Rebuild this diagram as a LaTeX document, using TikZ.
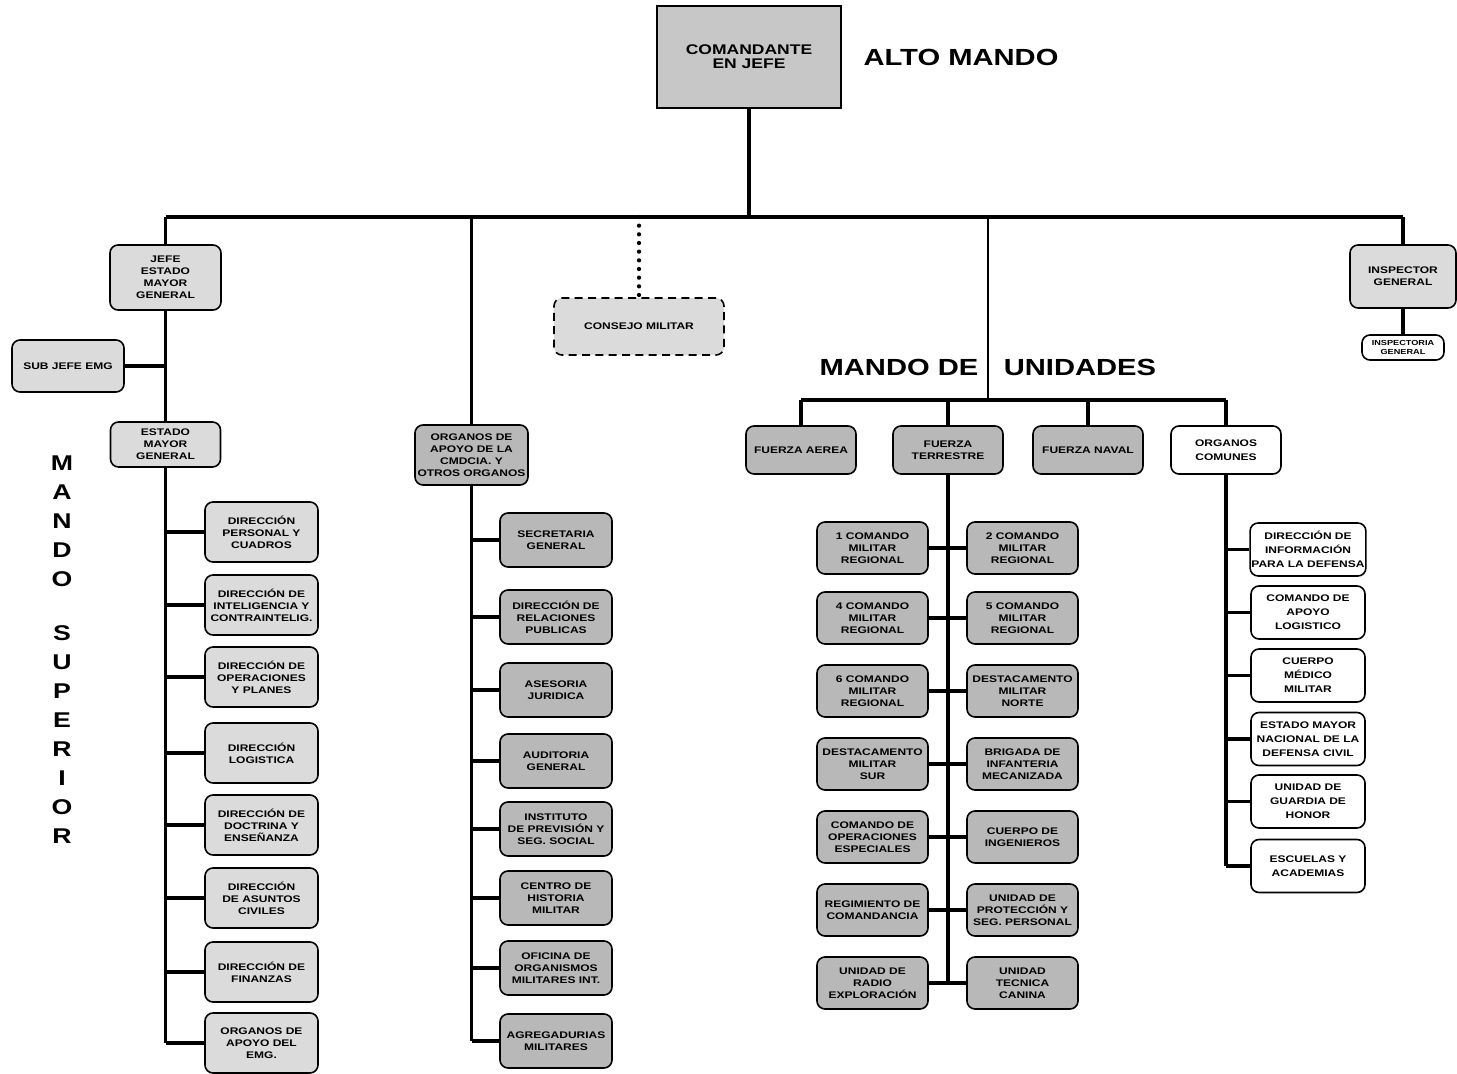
\documentclass[tikz,border=0pt]{standalone}
\usepackage{fontspec}
\setmainfont{Liberation Sans}[FakeStretch=1.25]
\definecolor{boxlite}{gray}{0.86}
\definecolor{boxdark}{gray}{0.72}
\definecolor{boxtop}{gray}{0.78}
\newcommand{\orgfont}{\bfseries\fontsize{7.2}{9}\selectfont}
\newcommand{\orgwidefont}{\bfseries\fontsize{7.2}{10.5}\selectfont}
\newcommand{\orgtinyfont}{\bfseries\fontsize{5.5}{6.5}\selectfont}
\newcommand{\cmdfont}{\bfseries\fontsize{10.5}{10.5}\selectfont}
\newcommand{\headfont}{\bfseries\fontsize{17.5}{20}\selectfont}
\newcommand{\vertfont}{\bfseries\fontsize{16}{18}\selectfont}
\tikzset{every picture/.style={line width=0.75pt}}
\tikzset{
  orgbox/.style={draw, rounded corners=6pt, line width=1.2pt, align=center, inner sep=1pt, font=\orgfont},
  litebox/.style={orgbox, fill=boxlite},
  darkbox/.style={orgbox, fill=boxdark},
  whitebox/.style={orgbox, fill=white, font=\orgwidefont},
  colA/.style={minimum width=84.75pt, minimum height=45pt},
  colB/.style={minimum width=84pt, minimum height=40.5pt},
  colC/.style={minimum width=83.25pt, minimum height=39pt},
  colD/.style={minimum width=85.5pt, minimum height=39.75pt},
  fza/.style={minimum width=82.5pt, minimum height=36pt},
  link/.style={line width=2.6pt},
  dotline/.style={line width=3.2pt, line cap=round, dash pattern=on 0pt off 6.5pt},
  vtext/.style={font=\vertfont, inner sep=0pt}
}
\begin{document}
\begin{tikzpicture}[x=0.75pt,y=0.75pt,yscale=-1,xscale=1]
	\useasboundingbox (0,0) rectangle (1457,1074);
	
	%Shape: Rectangle [alto mando]
	\node (cmd) at (749,57) [orgbox, sharp corners, fill=boxtop, minimum width=138pt, minimum height=76.5pt, font=\cmdfont] {COMANDANTE\\EN JEFE};
	% Text Node
	\node (alto) at (961,57) [font=\headfont] {ALTO MANDO};
	\coordinate (bar) at (749,217);
	
	%Shape: Rectangle [estado mayor]
	\node (jemg) at (165.5,277.5) [litebox, minimum width=83.25pt, minimum height=48.75pt] {JEFE\\ESTADO\\MAYOR\\GENERAL};
	\node (sjemg) at (68,366) [litebox, minimum width=84pt, minimum height=39pt] {SUB JEFE EMG};
	\node (emg) at (165.5,444.5) [litebox, minimum width=82.5pt, minimum height=33.75pt] {ESTADO\\MAYOR\\GENERAL};
	\node (dpc) at (261.5,532) [litebox, colA] {DIRECCIÓN\\PERSONAL Y\\CUADROS};
	\node (dic) at (261.5,605) [litebox, colA] {DIRECCIÓN DE\\INTELIGENCIA Y\\CONTRAINTELIG.};
	\node (dop) at (261.5,677) [litebox, colA] {DIRECCIÓN DE\\OPERACIONES\\Y PLANES};
	\node (dlg) at (261.5,753) [litebox, colA] {DIRECCIÓN\\LOGISTICA};
	\node (dde) at (261.5,825) [litebox, colA] {DIRECCIÓN DE\\DOCTRINA Y\\ENSEÑANZA};
	\node (dac) at (261.5,898) [litebox, colA] {DIRECCIÓN\\DE ASUNTOS\\CIVILES};
	\node (dfi) at (261.5,972) [litebox, colA] {DIRECCIÓN DE\\FINANZAS};
	\node (oae) at (261.5,1043) [litebox, colA] {ORGANOS DE\\APOYO DEL\\EMG.};
	
	%Shape: Rectangle [organos de apoyo]
	\node (oac) at (471.5,455) [darkbox, colA] {ORGANOS DE\\APOYO DE LA\\CMDCIA. Y\\OTROS ORGANOS};
	\node (sgn) at (556,540) [darkbox, colB] {SECRETARIA\\GENERAL};
	\node (drp) at (556,617) [darkbox, colB] {DIRECCIÓN DE\\RELACIONES\\PUBLICAS};
	\node (asj) at (556,690) [darkbox, colB] {ASESORIA\\JURIDICA};
	\node (aug) at (556,761) [darkbox, colB] {AUDITORIA\\GENERAL};
	\node (ips) at (556,829) [darkbox, colB] {INSTITUTO\\DE PREVISIÓN Y\\SEG. SOCIAL};
	\node (chm) at (556,898) [darkbox, colB] {CENTRO DE\\HISTORIA\\MILITAR};
	\node (omi) at (556,968) [darkbox, colB] {OFICINA DE\\ORGANISMOS\\MILITARES INT.};
	\node (agm) at (556,1041) [darkbox, colB] {AGREGADURIAS\\MILITARES};
	
	%Shape: Rectangle [consejo]
	\node (csm) at (639,326.5) [litebox, dash pattern=on 6pt off 4pt, minimum width=127.5pt, minimum height=42.75pt] {CONSEJO MILITAR};
	
	%Shape: Rectangle [inspector]
	\node (igl) at (1403,276.5) [litebox, minimum width=79.5pt, minimum height=47.25pt] {INSPECTOR\\GENERAL};
	\node (iga) at (1403,347.5) [orgbox, fill=white, font=\orgtinyfont, minimum width=61.5pt, minimum height=18.75pt] {INSPECTORIA\\GENERAL};
	
	% Text Node
	\node (mdt) at (899,367) [font=\headfont] {MANDO DE};
	\node (unt) at (1080,367) [font=\headfont] {UNIDADES};
	\coordinate (mu) at (988,400);
	
	%Shape: Rectangle [fuerzas]
	\node (fza) at (801,450) [darkbox, fza] {FUERZA AEREA};
	\node (fzt) at (948,450) [darkbox, fza] {FUERZA\\TERRESTRE};
	\node (fzn) at (1088,450) [darkbox, fza] {FUERZA NAVAL};
	\node (ocm) at (1226,450) [whitebox, fza] {ORGANOS\\COMUNES};
	
	\node (cm1) at (872.5,548) [darkbox, colC] {1 COMANDO\\MILITAR\\REGIONAL};
	\node (cm2) at (1022.5,548) [darkbox, colC] {2 COMANDO\\MILITAR\\REGIONAL};
	\node (cm4) at (872.5,618) [darkbox, colC] {4 COMANDO\\MILITAR\\REGIONAL};
	\node (cm5) at (1022.5,618) [darkbox, colC] {5 COMANDO\\MILITAR\\REGIONAL};
	\node (cm6) at (872.5,691) [darkbox, colC] {6 COMANDO\\MILITAR\\REGIONAL};
	\node (dmn) at (1022.5,691) [darkbox, colC] {DESTACAMENTO\\MILITAR\\NORTE};
	\node (dms) at (872.5,764) [darkbox, colC] {DESTACAMENTO\\MILITAR\\SUR};
	\node (bim) at (1022.5,764) [darkbox, colC] {BRIGADA DE\\INFANTERIA\\MECANIZADA};
	\node (coe) at (872.5,837) [darkbox, colC] {COMANDO DE\\OPERACIONES\\ESPECIALES};
	\node (cin) at (1022.5,837) [darkbox, colC] {CUERPO DE\\INGENIEROS};
	\node (rco) at (872.5,910) [darkbox, colC] {REGIMIENTO DE\\COMANDANCIA};
	\node (ups) at (1022.5,910) [darkbox, colC] {UNIDAD DE\\PROTECCIÓN Y\\SEG. PERSONAL};
	\node (ure) at (872.5,983) [darkbox, colC] {UNIDAD DE\\RADIO\\EXPLORACIÓN};
	\node (utc) at (1022.5,983) [darkbox, colC] {UNIDAD\\TECNICA\\CANINA};
	
	\node (dip) at (1308,549.5) [whitebox, colD] {DIRECCIÓN DE\\INFORMACIÓN\\PARA LA DEFENSA};
	\node (cal) at (1308,612.5) [whitebox, colD] {COMANDO DE\\APOYO\\LOGISTICO};
	\node (cmm) at (1308,675.5) [whitebox, colD] {CUERPO\\MÉDICO\\MILITAR};
	\node (emn) at (1308,739) [whitebox, colD] {ESTADO MAYOR\\NACIONAL DE LA\\DEFENSA CIVIL};
	\node (ugh) at (1308,801.5) [whitebox, colD] {UNIDAD DE\\GUARDIA DE\\HONOR};
	\node (eya) at (1308,866) [whitebox, colD] {ESCUELAS Y\\ACADEMIAS};
	
	% Text Node [mando superior]
	\node (ms1) at (62,463) [vtext] {M};
	\node (ms2) at (62,492) [vtext] {A};
	\node (ms3) at (62,521) [vtext] {N};
	\node (ms4) at (62,550) [vtext] {D};
	\node (ms5) at (62,579) [vtext] {O};
	\node (ms6) at (62,633) [vtext] {S};
	\node (ms7) at (62,662) [vtext] {U};
	\node (ms8) at (62,691) [vtext] {P};
	\node (ms9) at (62,720) [vtext] {E};
	\node (ms10) at (62,749) [vtext] {R};
	\node (ms11) at (62,778) [vtext] {I};
	\node (ms12) at (62,807) [vtext] {O};
	\node (ms13) at (62,836) [vtext] {R};
	
	%Straight Lines [top bar]
	\draw [link] (cmd.south) -- (bar) ;
	\draw [link] (jemg.north |- bar) -- (igl.north |- bar) ;
	\draw [link] (jemg.north |- bar) -- (jemg.north) ;
	\draw [link] (oac.north |- bar) -- (oac.north) ;
	\draw [link] (igl.north |- bar) -- (igl.north) ;
	\draw [dotline] (csm.north |- bar) -- (csm.north) ;
	\draw [line width=1.5pt] (mu |- bar) -- (mu) ;
	
	%Straight Lines [estado mayor]
	\draw [link] (jemg.south) -- (emg.north) ;
	\draw [link] (sjemg.east) -- (sjemg.east -| jemg.south) ;
	\draw [link] (emg.south) -- (emg.south |- oae.west) ;
	\draw [link] (emg.south |- dpc.west) -- (dpc.west) ;
	\draw [link] (emg.south |- dic.west) -- (dic.west) ;
	\draw [link] (emg.south |- dop.west) -- (dop.west) ;
	\draw [link] (emg.south |- dlg.west) -- (dlg.west) ;
	\draw [link] (emg.south |- dde.west) -- (dde.west) ;
	\draw [link] (emg.south |- dac.west) -- (dac.west) ;
	\draw [link] (emg.south |- dfi.west) -- (dfi.west) ;
	\draw [link] (emg.south |- oae.west) -- (oae.west) ;
	
	%Straight Lines [organos de apoyo]
	\draw [link] (oac.south) -- (oac.south |- agm.west) ;
	\draw [link] (oac.south |- sgn.west) -- (sgn.west) ;
	\draw [link] (oac.south |- drp.west) -- (drp.west) ;
	\draw [link] (oac.south |- asj.west) -- (asj.west) ;
	\draw [link] (oac.south |- aug.west) -- (aug.west) ;
	\draw [link] (oac.south |- ips.west) -- (ips.west) ;
	\draw [link] (oac.south |- chm.west) -- (chm.west) ;
	\draw [link] (oac.south |- omi.west) -- (omi.west) ;
	\draw [link] (oac.south |- agm.west) -- (agm.west) ;
	
	%Straight Lines [mando de unidades]
	\draw [link] (fza.north |- mu) -- (ocm.north |- mu) ;
	\draw [link] (fza.north |- mu) -- (fza.north) ;
	\draw [link] (fzt.north |- mu) -- (fzt.north) ;
	\draw [link] (fzn.north |- mu) -- (fzn.north) ;
	\draw [link] (ocm.north |- mu) -- (ocm.north) ;
	\draw [link] (fzt.south) -- (fzt.south |- ure.east) ;
	\draw [link] (cm1.east) -- (cm2.west) ;
	\draw [link] (cm4.east) -- (cm5.west) ;
	\draw [link] (cm6.east) -- (dmn.west) ;
	\draw [link] (dms.east) -- (bim.west) ;
	\draw [link] (coe.east) -- (cin.west) ;
	\draw [link] (rco.east) -- (ups.west) ;
	\draw [link] (ure.east) -- (utc.west) ;
	\draw [link] (ocm.south) -- (ocm.south |- eya.west) ;
	\draw [link] (ocm.south |- dip.west) -- (dip.west) ;
	\draw [link] (ocm.south |- cal.west) -- (cal.west) ;
	\draw [link] (ocm.south |- cmm.west) -- (cmm.west) ;
	\draw [link] (ocm.south |- emn.west) -- (emn.west) ;
	\draw [link] (ocm.south |- ugh.west) -- (ugh.west) ;
	\draw [link] (ocm.south |- eya.west) -- (eya.west) ;
	
	%Straight Lines [inspector]
	\draw [link] (igl.south) -- (iga.north) ;
	
\end{tikzpicture}
\end{document}
